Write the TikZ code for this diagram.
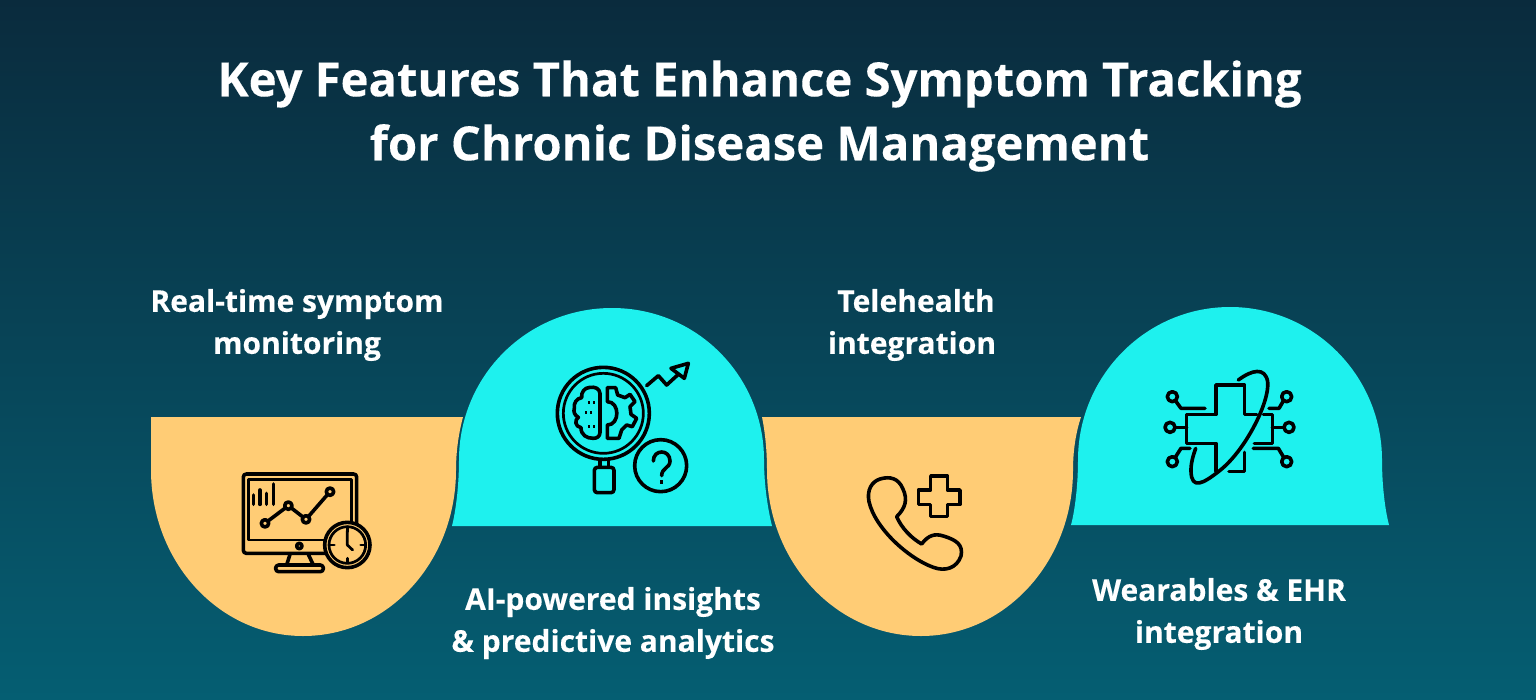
\documentclass[tikz,border=0pt]{standalone}
\usepackage{fontspec}
\setmainfont{Open Sans}[BoldFeatures={FakeBold=0.25}]
\definecolor{bgtop}{HTML}{0A2B3D}
\definecolor{bgbot}{HTML}{055E72}
\definecolor{amber}{HTML}{FFCC75}
\definecolor{aqua}{HTML}{1EF1EE}
\tikzset{
  titletext/.style={text=white,font=\fontsize{47.2}{64}\selectfont\bfseries,align=center,inner sep=0pt},
  labeltext/.style={text=white,font=\fontsize{30}{42}\selectfont\bfseries,align=center,inner sep=0pt},
  ink/.style={draw=black,line width=3.6pt,line join=round,line cap=round},
  thinink/.style={draw=black,line width=2.7pt,line join=round,line cap=round},
  zoomed/.style={x=0.33333pt,y=-0.33333pt}
}
\begin{document}
\begin{tikzpicture}[x=1pt,y=-1pt]
\useasboundingbox (0,0) rectangle (1536,699);
\shade[top color=bgtop,bottom color=bgbot] (0,0) rectangle (1536,699);
% amber bowls
\fill[amber] (151,417) -- (463,417) .. controls (459,432) and (456,450) .. (456,470)
  .. controls (456,562) and (388,636) .. (303,636) .. controls (219,636) and (151,562) .. (151,470) -- cycle;
\fill[amber] (762,417) -- (1081,417) .. controls (1076,432) and (1073,450) .. (1073,470)
  .. controls (1073,562) and (1005,636) .. (921,636) .. controls (836,636) and (767,562) .. (767,470)
  .. controls (767,450) and (765,432) .. (762,417) -- cycle;
% aqua domes
\fill[aqua] (452,526) .. controls (456,510) and (459,485) .. (459,460)
  .. controls (459,376) and (527,308) .. (612,308) .. controls (697,308) and (764,376) .. (764,460)
  .. controls (764,485) and (768,510) .. (772,526) -- cycle;
\fill[aqua] (1071,525) .. controls (1075,510) and (1078,485) .. (1078,460)
  .. controls (1078,376) and (1146,307) .. (1230,307) .. controls (1314,307) and (1382,376) .. (1382,460)
  .. controls (1382,485) and (1385,510) .. (1389,525) -- cycle;
% text
\node[titletext] (title) at (759.5,116) {Key Features That Enhance Symptom Tracking\\for Chronic Disease Management};
\node[labeltext] (l1) at (297,325) {Real-time symptom\\monitoring};
\node[labeltext] (l2) at (613,623) {AI-powered insights\\\& predictive analytics};
\node[labeltext] (l3) at (912,325) {\hspace*{8pt}Telehealth\\integration};
\node[labeltext] (l4) at (1219,614) {Wearables \& EHR\\integration};
% monitor icon
\begin{scope}[shift={(230,460)},zoomed]
  \draw[ink,rounded corners=3pt] (40,42) rectangle (380,280);
  \draw[thinink] (55,58) rectangle (365,240);
  \draw[ink] (70,105) -- (70,133) (90,90) -- (90,133) (110,100) -- (110,133) (130,72) -- (130,133);
  \draw[ink] (105,190) -- (175,137) -- (228,178) -- (300,95);
  \foreach \p in {(105,190),(175,137),(228,178),(300,95)} \filldraw[ink,fill=amber] \p circle (11);
  \filldraw[ink,fill=amber] (208,258) circle (8);
  \draw[ink] (180,283) -- (170,315) (235,283) -- (250,315);
  \draw[ink,rounded corners=3pt] (137,315) rectangle (280,335);
  \filldraw[ink,fill=amber] (352,255) circle (68);
  \draw[thinink] (352,255) circle (55);
  \draw[thinink] (352,212) -- (352,255) -- (368,270);
  \draw[thinink] (352,200) -- (352,215) (352,295) -- (352,308) (300,255) -- (313,255) (392,255) -- (405,255);
\end{scope}
% analytics icon
\begin{scope}[shift={(545,355)},zoomed]
  \draw[ink] (175,175) circle (138);
  \draw[thinink] (175,175) circle (120);
  \draw[ink] (165,315) -- (165,335) (190,315) -- (190,335);
  \draw[ink,rounded corners=3pt] (148,337) rectangle (207,413);
  \draw[ink] (347,332) circle (78);
  \draw[ink] (325,318) .. controls (325,282) and (375,282) .. (375,318) .. controls (375,340) and (350,338) .. (350,362);
  \draw[ink,line cap=butt] (350,375) -- (350,387);
  \draw[ink] (305,92) -- (340,62) -- (365,90) -- (400,58);
  \draw[ink] (430,25) -- (378,40) -- (418,70) -- cycle;
  % brain half
  \draw[ink] (165,115) .. controls (163,100) and (150,95) .. (135,97) .. controls (118,98) and (108,112) .. (110,128)
     .. controls (95,130) and (85,145) .. (88,160) .. controls (85,170) and (88,180) .. (100,187)
     .. controls (88,195) and (90,215) .. (108,218) .. controls (108,240) and (125,250) .. (145,250)
     .. controls (155,250) and (165,245) .. (165,232) -- cycle;
  \draw[ink,line cap=butt] (130,143) -- (136,143) (145,143) -- (151,143)
     (120,172) -- (126,172) (135,172) -- (141,172)
     (130,215) -- (136,215) (145,215) -- (151,215);
  % gear half
  \draw[ink] (187,98) -- (212,98) -- (218,120) -- (240,128) -- (255,118) -- (270,140) -- (255,155) -- (258,178)
     -- (275,190) -- (262,215) -- (245,210) -- (230,225) -- (222,250) -- (187,250) -- (187,210)
     .. controls (225,210) and (225,140) .. (187,140) -- cycle;
\end{scope}
% phone icon
\begin{scope}[shift={(855,470)},zoomed]
  \draw[ink] (75,27) .. controls (105,18) and (130,25) .. (143,55) .. controls (160,90) and (150,115) .. (125,140)
     .. controls (140,175) and (170,205) .. (200,222) .. controls (220,195) and (240,190) .. (265,198)
     .. controls (305,210) and (325,225) .. (318,258) .. controls (305,295) and (270,305) .. (235,292)
     .. controls (160,265) and (60,175) .. (42,95) .. controls (35,60) and (50,35) .. (75,27) -- cycle;
  \draw[ink] (227,18) -- (277,18) -- (277,60) -- (315,60) -- (315,103) -- (277,103) -- (277,140) -- (227,140)
     -- (227,103) -- (190,103) -- (190,60) -- (227,60) -- cycle;
\end{scope}
% health circuit icon
\begin{scope}[shift={(1155,365)},zoomed]
  \draw[ink] (183,318) -- (183,235) -- (95,235) -- (95,148) -- (183,148) -- (183,60) -- (268,60) -- (268,148) -- (305,148);
  \draw[ink] (325,148) -- (352,148) -- (352,235) -- (298,235);
  \draw[ink] (268,262) -- (268,320) -- (222,320);
  \draw[ink] (250,45) .. controls (290,15) and (330,5) .. (338,50) .. controls (345,110) and (270,260) .. (190,320)
     .. controls (145,355) and (110,375) .. (108,320) .. controls (107,295) and (115,270) .. (122,250);
  \draw[ink] (150,130) -- (78,130) -- (62,108);
  \draw[ink] (52,95) circle (15);
  \draw[ink] (95,187) -- (60,187);
  \draw[ink] (45,187) circle (15);
  \draw[ink] (105,250) -- (78,250) -- (62,275);
  \draw[ink] (52,290) circle (15);
  \draw[ink] (342,130) -- (372,130) -- (385,108);
  \draw[ink] (395,95) circle (15);
  \draw[ink] (352,187) -- (387,187);
  \draw[ink] (402,187) circle (15);
  \draw[ink] (295,250) -- (370,250) -- (385,275);
  \draw[ink] (395,290) circle (15);
\end{scope}
\end{tikzpicture}
\end{document}
